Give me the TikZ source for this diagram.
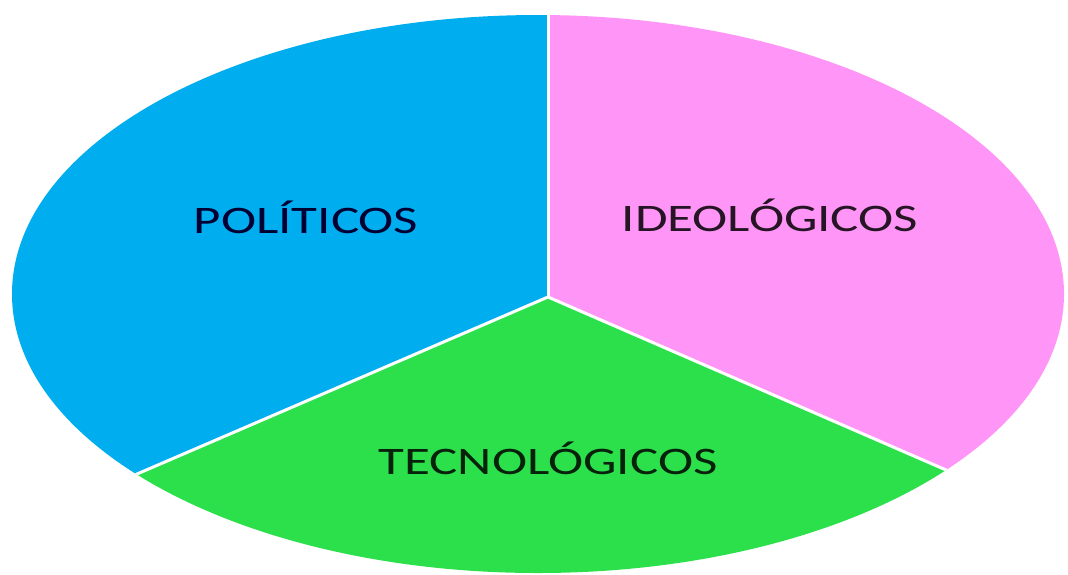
\documentclass[tikz,border=0pt]{standalone}
\usepackage{fontspec}
\setmainfont{Carlito}
\definecolor{polblue}{HTML}{00ADEE}
\definecolor{idepink}{HTML}{FF96F7}
\definecolor{tecgreen}{HTML}{2CE04C}

\begin{document}
\begin{tikzpicture}[
   x=1pt, y=-1pt,
   every node/.style={font=\fontsize{39}{41}\selectfont, xscale=1.36},
   divider/.style={draw=white, line width=3pt}]

\useasboundingbox (0,0) rectangle (1068,574);

\coordinate (c)  at (548,297);
\coordinate (up) at (548,-20);
\coordinate (ll) at (0,533);
\coordinate (lr) at (1068,523);

\begin{scope}
  \clip (538,294) ellipse (526 and 279);
  \fill[polblue]  (c) -- (up) -- (-20,-20) -- (ll) -- cycle;
  \fill[idepink]  (c) -- (up) -- (1088,-20) -- (lr) -- cycle;
  \fill[tecgreen] (c) -- (ll) -- (0,594) -- (1068,594) -- (lr) -- cycle;
  \draw[divider] (c) -- (up);
  \draw[divider] (c) -- (ll);
  \draw[divider] (c) -- (lr);
\end{scope}

\node[text=black!80!blue] (pol) at (306,217) {POLÍTICOS};
\node[text=black!85!idepink] (ide) at (770,215) {IDEOLÓGICOS};
\node[text=black!85!tecgreen] (tec) at (548,458) {TECNOLÓGICOS};

\end{tikzpicture}
\end{document}
